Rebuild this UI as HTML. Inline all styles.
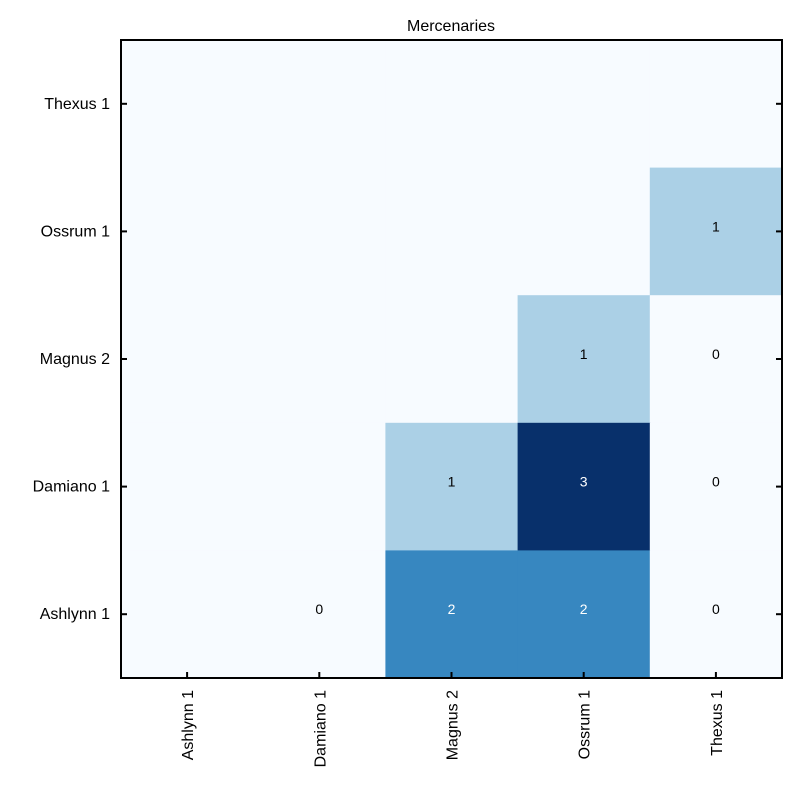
<!DOCTYPE html>
<html><head><meta charset="utf-8"><style>
body{margin:0;background:#fff;}
svg text{font-family:"Liberation Sans",sans-serif;}
</style></head><body>
<svg width="800" height="800" xmlns="http://www.w3.org/2000/svg">
<text x="451" y="31" text-anchor="middle" font-size="16">Mercenaries</text>
<g id="cells"></g>
<rect x="121" y="40" width="661" height="638" fill="none" stroke="#000" stroke-width="2"/>
<g id="axes"></g>
</svg>
<script>
const xCats=["Ashlynn 1","Damiano 1","Magnus 2","Ossrum 1","Thexus 1"];
const yCats=["Thexus 1","Ossrum 1","Magnus 2","Damiano 1","Ashlynn 1"];
const values=[
[null,null,null,null,null],
[null,null,null,null,1],
[null,null,null,1,0],
[null,null,1,3,0],
[null,0,2,2,0]];
const palette=["#f7fbff","#abd0e6","#3787c0","#08306b"];
const L=121,T=40,W=661,H=638;
const cw=W/xCats.length, ch=H/yCats.length;
const xPos=i=>L+i*cw, yPos=j=>T+j*ch;
const NS="http://www.w3.org/2000/svg";
const cells=document.getElementById('cells'), axes=document.getElementById('axes');
function mk(tag,at,parent){const e=document.createElementNS(NS,tag);for(const k in at)e.setAttribute(k,at[k]);parent.appendChild(e);return e;}
values.forEach((row,j)=>row.forEach((v,i)=>{
  const r=mk('rect',{x:xPos(i),y:yPos(j),width:cw+0.5,height:ch+0.5,fill:v==null?palette[0]:palette[v]},cells);
  
  
  if(v!=null){
    const t=mk('text',{x:xPos(i)+cw/2,y:yPos(j)+ch/2,'text-anchor':'middle','font-size':'14',fill:v>=2?'#fff':'#000'},cells);
    t.textContent=v;
    
    
  }
}));
yCats.forEach((c,j)=>{
  const y=yPos(j)+ch/2;
  const t=mk('text',{x:110,y:y+5,'text-anchor':'end','font-size':'16'},axes);
  t.textContent=c;
  
  
  const a=mk('line',{x1:L,x2:L+6,y1:y,y2:y,stroke:'#000','stroke-width':2},axes);
  
  
  const b=mk('line',{x1:L+W-6,x2:L+W,y1:y,y2:y,stroke:'#000','stroke-width':2},axes);
  
  
});
xCats.forEach((c,i)=>{
  const x=xPos(i)+cw/2;
  const t=mk('text',{x:0,y:0,'text-anchor':'end','font-size':'16',transform:`translate(${x+6},690) rotate(-90)`},axes);
  t.textContent=c;
  
  
  const a=mk('line',{x1:x,x2:x,y1:T+H-6,y2:T+H,stroke:'#000','stroke-width':2},axes);
  
  
});
</script>
</body></html>
